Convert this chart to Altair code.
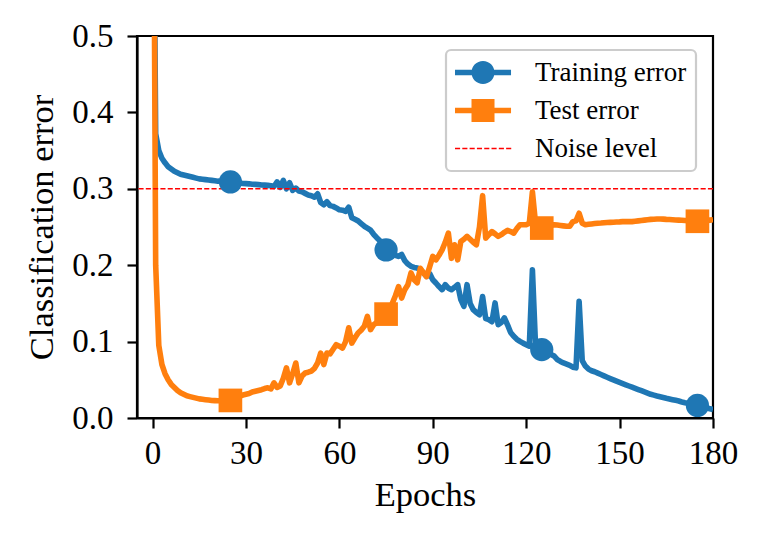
import altair as alt
import pandas as pd

# ---------------- data ----------------
epochs = list(range(0, 181))

training_error = [
    0.90, 0.372, 0.350, 0.340, 0.334, 0.329, 0.326, 0.323, 0.321, 0.319,
    0.318, 0.317, 0.316, 0.315, 0.314, 0.313, 0.3125, 0.312, 0.3115, 0.311,
    0.3105, 0.310, 0.3098, 0.3095, 0.3092, 0.309, 0.3085, 0.308, 0.3075, 0.307,
    0.3068, 0.3065, 0.306, 0.3058, 0.3055, 0.305, 0.3048, 0.3045, 0.304, 0.303,
    0.309, 0.302, 0.311, 0.300, 0.308, 0.298, 0.301, 0.297, 0.296, 0.294,
    0.292, 0.291, 0.289, 0.2935, 0.282, 0.279, 0.283, 0.278, 0.277, 0.275,
    0.2725, 0.272, 0.2705, 0.276, 0.262, 0.260, 0.258, 0.2545, 0.251, 0.2486,
    0.246, 0.2405, 0.236, 0.232, 0.226, 0.220, 0.219, 0.216, 0.213, 0.2115,
    0.214, 0.206, 0.2015, 0.1985, 0.197, 0.1963, 0.194, 0.190, 0.1854, 0.189,
    0.181, 0.1767, 0.172, 0.168, 0.1745, 0.170, 0.168, 0.171, 0.1745, 0.155,
    0.146, 0.1745, 0.150, 0.1418, 0.138, 0.135, 0.159, 0.130, 0.1288, 0.126,
    0.1506, 0.1222, 0.125, 0.131, 0.122, 0.112, 0.107, 0.103, 0.1004, 0.098,
    0.096, 0.094, 0.194, 0.095, 0.092, 0.0895, 0.087, 0.085, 0.083, 0.081,
    0.0765, 0.074, 0.072, 0.0705, 0.069, 0.0665, 0.0656, 0.1527, 0.075, 0.068,
    0.064, 0.0618, 0.0605, 0.0587, 0.0569, 0.0551, 0.0533, 0.0516, 0.0499, 0.0482,
    0.0466, 0.045, 0.0435, 0.0419, 0.0404, 0.0388, 0.0373, 0.0357, 0.0342, 0.0326,
    0.031, 0.0299, 0.0288, 0.0278, 0.0268, 0.0258, 0.0249, 0.024, 0.0231, 0.0222,
    0.021, 0.020, 0.0193, 0.0184, 0.0174, 0.0164, 0.0153, 0.0142, 0.0132, 0.0122,
    0.0112,
]

test_error = [
    1.0, 0.20, 0.095, 0.070, 0.058, 0.050, 0.044, 0.040, 0.036, 0.033,
    0.031, 0.029, 0.028, 0.027, 0.026, 0.025, 0.0245, 0.024, 0.0235, 0.023,
    0.0228, 0.0226, 0.0225, 0.0226, 0.0228, 0.023, 0.0245, 0.026, 0.0285, 0.030,
    0.031, 0.032, 0.034, 0.035, 0.036, 0.037, 0.0385, 0.0395, 0.038, 0.046,
    0.040, 0.042, 0.052, 0.0656, 0.046, 0.058, 0.072, 0.046, 0.055, 0.059,
    0.060, 0.0615, 0.065, 0.072, 0.085, 0.070, 0.085, 0.084, 0.090, 0.096,
    0.094, 0.0915, 0.100, 0.118, 0.098, 0.105, 0.1113, 0.115, 0.120, 0.133,
    0.1157, 0.122, 0.125, 0.130, 0.134, 0.136, 0.142, 0.150, 0.160, 0.172,
    0.157, 0.168, 0.1745, 0.190, 0.181, 0.177, 0.196, 0.190, 0.185, 0.198,
    0.2115, 0.207, 0.213, 0.220, 0.230, 0.242, 0.209, 0.2268, 0.207, 0.231,
    0.234, 0.2377, 0.234, 0.230, 0.2268, 0.250, 0.291, 0.2355, 0.240, 0.244,
    0.241, 0.2377, 0.240, 0.243, 0.2455, 0.244, 0.242, 0.248, 0.253, 0.253,
    0.253, 0.255, 0.296, 0.255, 0.252, 0.2486, 0.250, 0.251, 0.252, 0.253,
    0.2525, 0.252, 0.2515, 0.251, 0.251, 0.257, 0.258, 0.268, 0.255, 0.253,
    0.2535, 0.254, 0.2545, 0.255, 0.2552, 0.2555, 0.2558, 0.256, 0.2562, 0.2565,
    0.2567, 0.257, 0.257, 0.257, 0.257, 0.2575, 0.258, 0.2585, 0.259, 0.2595,
    0.260, 0.2602, 0.2604, 0.2604, 0.2603, 0.260, 0.2598, 0.2595, 0.2592, 0.259,
    0.2588, 0.2585, 0.2582, 0.258, 0.2578, 0.2575, 0.2578, 0.258, 0.2585, 0.259,
    0.2595,
]

noise_level = 0.3
marker_epochs = [25, 75, 125, 175]

series_names = ["Training error", "Test error", "Noise level"]
series_colors = ["#1f77b4", "#ff7f0e", "#ff0000"]
x_ticks = [0, 30, 60, 90, 120, 150, 180]
y_ticks = [0.0, 0.1, 0.2, 0.3, 0.4, 0.5]

assert len(training_error) == len(epochs) == len(test_error)

# ---------------- tables ----------------
train_df = pd.DataFrame({"epoch": epochs, "error": training_error})
test_df = pd.DataFrame({"epoch": epochs, "error": test_error})
train_marks = train_df[train_df["epoch"].isin(marker_epochs)]
test_marks = test_df[test_df["epoch"].isin(marker_epochs)]
legend_df = pd.DataFrame({"series": series_names})
noise_df = pd.DataFrame({"level": [noise_level]})

# legend glyphs: unit = sqrt(symbolSize)/2 px; glyph spans x in [-1, 3.15]
SYM = 729
line_bar = "M-1,-0.207L3.15,-0.207L3.15,0.207L-1,0.207Z"
line_circle = line_bar + "M1.927,0A0.852,0.852 0 1,1 0.222,0A0.852,0.852 0 1,1 1.927,0Z"
line_square = line_bar + "M0.222,-0.852L1.927,-0.852L1.927,0.852L0.222,0.852Z"
dash = "".join(
    f"M{a:.3f},-0.052L{a + 0.378:.3f},-0.052L{a + 0.378:.3f},0.052L{a:.3f},0.052Z"
    for a in [-1.0 + 0.541 * k for k in range(8)]
)

FONT = "Liberation Serif"
LW = 5.6
x_scale = alt.Scale(domain=[-5, 180], nice=False, zero=False)
y_scale = alt.Scale(domain=[0, 0.5], nice=False, zero=False)

x_enc = alt.X("epoch:Q", scale=x_scale,
              axis=alt.Axis(values=x_ticks, title="Epochs", format="d", labelFlush=False))
y_enc = alt.Y("error:Q", scale=y_scale,
              axis=alt.Axis(values=y_ticks, title="Classification error", format=".1f",
                            labelFlush=False))
x_plain = alt.X("epoch:Q", scale=x_scale)
y_plain = alt.Y("error:Q", scale=y_scale)

train_line = alt.Chart(train_df).mark_line(clip=True, strokeJoin="round").encode(
    x=x_enc, y=y_enc,
    color=alt.value(series_colors[0]), strokeWidth=alt.value(LW),
)

test_line = alt.Chart(test_df).mark_line(clip=True, strokeJoin="round").encode(
    x=x_plain, y=y_plain,
    color=alt.value(series_colors[1]), strokeWidth=alt.value(LW),
)

noise = alt.Chart(noise_df).mark_rule(
    color=series_colors[2], strokeWidth=1.4, strokeDash=[5.1, 2.2]
).encode(y=alt.Y("level:Q", scale=y_scale))

circles = alt.Chart(train_marks).mark_point(
    shape="circle", filled=True, size=540, opacity=1, color=series_colors[0]
).encode(x=x_plain, y=y_plain)

squares = alt.Chart(test_marks).mark_point(
    shape="square", filled=True, size=560, opacity=1, color=series_colors[1]
).encode(x=x_plain, y=y_plain)

# invisible helper layer (clipped away) that only carries the legend
legend_layer = alt.Chart(legend_df).mark_point(filled=True, clip=True, opacity=1).encode(
    x=alt.value(-300), y=alt.value(-300),
    color=alt.Color(
        "series:N", scale=alt.Scale(domain=series_names, range=series_colors),
        legend=alt.Legend(
            title=None, orient="none", legendX=309, legendY=14, direction="vertical",
            symbolSize=SYM, symbolOpacity=1, symbolStrokeWidth=0,
            labelFont=FONT, labelFontSize=27, labelColor="black", labelOffset=53,
            rowPadding=10, padding=9, cornerRadius=5,
            strokeColor="#cccccc", fillColor="white",
        ),
    ),
    shape=alt.Shape("series:N", scale=alt.Scale(domain=series_names,
                                                range=[line_circle, line_square, dash])),
)

chart = alt.layer(train_line, test_line, noise, circles, squares, legend_layer).properties(
    width=576, height=382,
    padding={"left": 129, "top": 28, "right": 43, "bottom": 116},
    autosize=alt.AutoSizeParams(type="none"),
).configure_view(
    stroke="black", strokeWidth=2.2
).configure_axis(
    grid=False,
    labelFont=FONT, labelFontSize=33, labelColor="black",
    titleFont=FONT, titleFontSize=34.5, titleFontWeight="normal", titleColor="black",
    domainColor="black", domainWidth=2.2, tickColor="black", tickWidth=2.2, tickSize=10,
).configure_axisX(
    labelPadding=9, titlePadding=8,
).configure_axisY(
    labelPadding=14, titlePadding=12,
).configure_legend(
    strokeWidth=2.2,
)

chart.save("out.html", embed_options={"renderer": "svg", "actions": False})
